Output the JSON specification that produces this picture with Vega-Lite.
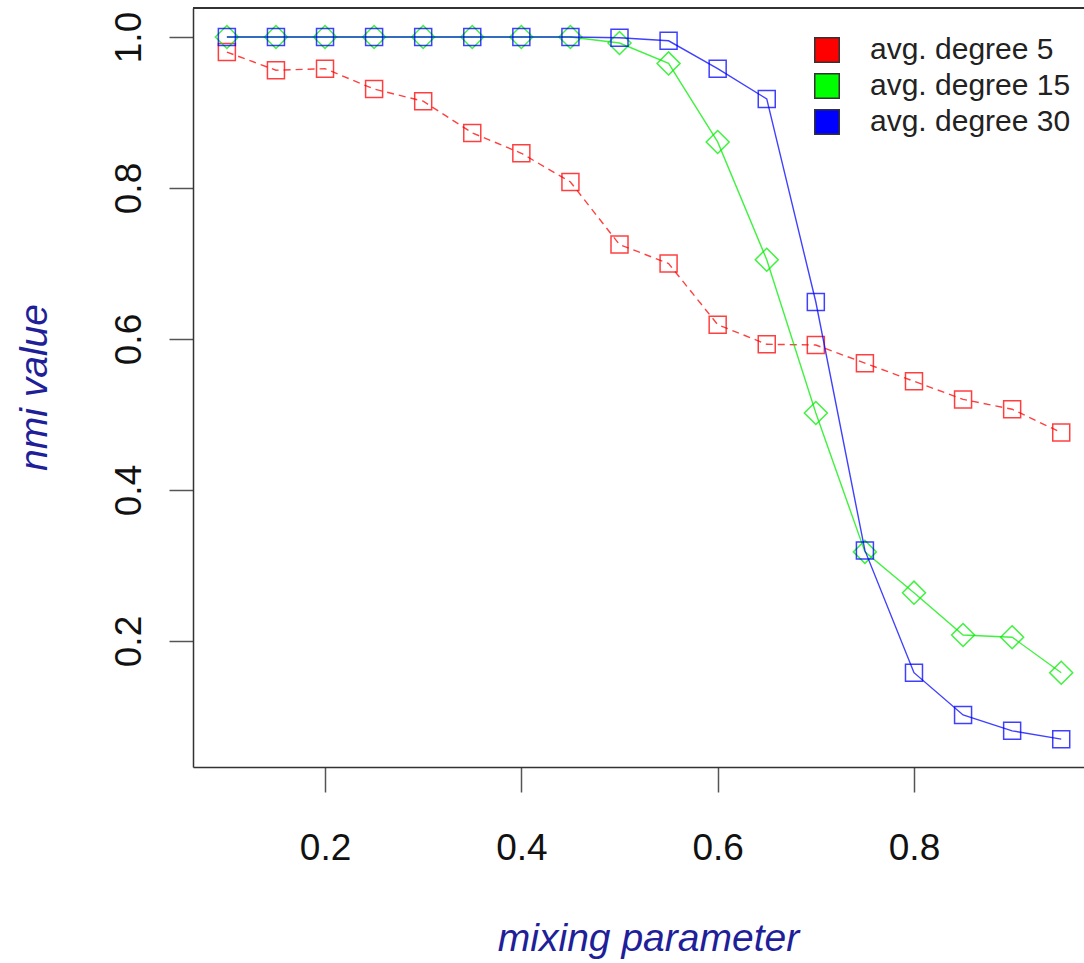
{
  "$schema": "https://vega.github.io/schema/vega-lite/v6.json",
  "autosize": {"type": "none"},
  "padding": {"left": 193, "top": 8, "right": 0, "bottom": 196},
  "width": 891,
  "height": 759,
  "background": "white",
  "config": {
    "view": {"stroke": null},
    "font": "Liberation Sans",
    "axis": {"grid": false, "domain": true, "domainColor": "#333333", "domainWidth": 1.5, "labelFont": "Liberation Sans", "titleFont": "Liberation Sans", "labelColor": "#111111", "tickColor": "#555555", "tickWidth": 1.5}
  },
  "data": {"values": [
    {"mu": 0.10, "nmi": 0.980, "series": "avg. degree 5"},
    {"mu": 0.15, "nmi": 0.956, "series": "avg. degree 5"},
    {"mu": 0.20, "nmi": 0.958, "series": "avg. degree 5"},
    {"mu": 0.25, "nmi": 0.931, "series": "avg. degree 5"},
    {"mu": 0.30, "nmi": 0.915, "series": "avg. degree 5"},
    {"mu": 0.35, "nmi": 0.873, "series": "avg. degree 5"},
    {"mu": 0.40, "nmi": 0.846, "series": "avg. degree 5"},
    {"mu": 0.45, "nmi": 0.808, "series": "avg. degree 5"},
    {"mu": 0.50, "nmi": 0.725, "series": "avg. degree 5"},
    {"mu": 0.55, "nmi": 0.700, "series": "avg. degree 5"},
    {"mu": 0.60, "nmi": 0.619, "series": "avg. degree 5"},
    {"mu": 0.65, "nmi": 0.593, "series": "avg. degree 5"},
    {"mu": 0.70, "nmi": 0.592, "series": "avg. degree 5"},
    {"mu": 0.75, "nmi": 0.568, "series": "avg. degree 5"},
    {"mu": 0.80, "nmi": 0.544, "series": "avg. degree 5"},
    {"mu": 0.85, "nmi": 0.520, "series": "avg. degree 5"},
    {"mu": 0.90, "nmi": 0.507, "series": "avg. degree 5"},
    {"mu": 0.95, "nmi": 0.476, "series": "avg. degree 5"},
    {"mu": 0.10, "nmi": 1.000, "series": "avg. degree 15"},
    {"mu": 0.15, "nmi": 1.000, "series": "avg. degree 15"},
    {"mu": 0.20, "nmi": 1.000, "series": "avg. degree 15"},
    {"mu": 0.25, "nmi": 1.000, "series": "avg. degree 15"},
    {"mu": 0.30, "nmi": 1.000, "series": "avg. degree 15"},
    {"mu": 0.35, "nmi": 1.000, "series": "avg. degree 15"},
    {"mu": 0.40, "nmi": 1.000, "series": "avg. degree 15"},
    {"mu": 0.45, "nmi": 1.000, "series": "avg. degree 15"},
    {"mu": 0.50, "nmi": 0.992, "series": "avg. degree 15"},
    {"mu": 0.55, "nmi": 0.965, "series": "avg. degree 15"},
    {"mu": 0.60, "nmi": 0.861, "series": "avg. degree 15"},
    {"mu": 0.65, "nmi": 0.705, "series": "avg. degree 15"},
    {"mu": 0.70, "nmi": 0.502, "series": "avg. degree 15"},
    {"mu": 0.75, "nmi": 0.318, "series": "avg. degree 15"},
    {"mu": 0.80, "nmi": 0.264, "series": "avg. degree 15"},
    {"mu": 0.85, "nmi": 0.208, "series": "avg. degree 15"},
    {"mu": 0.90, "nmi": 0.205, "series": "avg. degree 15"},
    {"mu": 0.95, "nmi": 0.158, "series": "avg. degree 15"},
    {"mu": 0.10, "nmi": 1.000, "series": "avg. degree 30"},
    {"mu": 0.15, "nmi": 1.000, "series": "avg. degree 30"},
    {"mu": 0.20, "nmi": 1.000, "series": "avg. degree 30"},
    {"mu": 0.25, "nmi": 1.000, "series": "avg. degree 30"},
    {"mu": 0.30, "nmi": 1.000, "series": "avg. degree 30"},
    {"mu": 0.35, "nmi": 1.000, "series": "avg. degree 30"},
    {"mu": 0.40, "nmi": 1.000, "series": "avg. degree 30"},
    {"mu": 0.45, "nmi": 1.000, "series": "avg. degree 30"},
    {"mu": 0.50, "nmi": 0.999, "series": "avg. degree 30"},
    {"mu": 0.55, "nmi": 0.995, "series": "avg. degree 30"},
    {"mu": 0.60, "nmi": 0.958, "series": "avg. degree 30"},
    {"mu": 0.65, "nmi": 0.918, "series": "avg. degree 30"},
    {"mu": 0.70, "nmi": 0.649, "series": "avg. degree 30"},
    {"mu": 0.75, "nmi": 0.320, "series": "avg. degree 30"},
    {"mu": 0.80, "nmi": 0.158, "series": "avg. degree 30"},
    {"mu": 0.85, "nmi": 0.102, "series": "avg. degree 30"},
    {"mu": 0.90, "nmi": 0.081, "series": "avg. degree 30"},
    {"mu": 0.95, "nmi": 0.070, "series": "avg. degree 30"}
  ]},
  "encoding": {
    "x": {
      "field": "mu", "type": "quantitative",
      "scale": {"domain": [0.0655, 0.9732], "nice": false, "zero": false},
      "axis": {
        "values": [0.2, 0.4, 0.6, 0.8], "format": ".1f",
        "labelFontSize": 37, "labelBaseline": "alphabetic", "labelPadding": 67,
        "tickSize": 25,
        "title": "mixing parameter", "titleFontSize": 39, "titleFontStyle": "italic", "titleFontWeight": "normal",
        "titleColor": "#1f1f9a", "titleBaseline": "alphabetic", "titleY": 183, "titleX": 455
      }
    },
    "y": {
      "field": "nmi", "type": "quantitative",
      "scale": {"domain": [0.0331, 1.0384], "nice": false, "zero": false},
      "axis": {
        "values": [0.2, 0.4, 0.6, 0.8, 1.0], "format": ".1f",
        "labelFontSize": 37, "labelAngle": -90, "labelAlign": "center", "labelBaseline": "alphabetic", "labelPadding": 29,
        "tickSize": 24,
        "title": "nmi value", "titleFontSize": 39, "titleFontStyle": "italic", "titleFontWeight": "normal",
        "titleColor": "#1f1f9a", "titleAngle": -90, "titleBaseline": "alphabetic", "titleAlign": "center", "titleX": -147, "titleY": 379
      }
    }
  },
  "layer": [
    {
      "mark": {"type": "rule", "color": "#333333", "strokeWidth": 1.5},
      "encoding": {
        "x": {"datum": 0.0655, "type": "quantitative"},
        "x2": {"datum": 0.9732},
        "y": {"datum": 1.0384, "type": "quantitative"}
      }
    },
    {
      "transform": [{"filter": "datum.series == 'avg. degree 5'"}],
      "mark": {"type": "line", "strokeWidth": 1.4, "opacity": 0.75, "strokeDash": [7, 5], "stroke": "#ff0000"},
      "encoding": {}
    },
    {
      "transform": [{"filter": "datum.series == 'avg. degree 5'"}],
      "mark": {"type": "point", "filled": false, "shape": "square", "size": 289, "strokeWidth": 1.5, "opacity": 0.75, "stroke": "#ff0000"},
      "encoding": {}
    },
    {
      "transform": [{"filter": "datum.series == 'avg. degree 15'"}],
      "mark": {"type": "line", "strokeWidth": 1.4, "opacity": 0.75, "stroke": "#00ee00"},
      "encoding": {}
    },
    {
      "transform": [{"filter": "datum.series == 'avg. degree 15'"}],
      "mark": {"type": "point", "filled": false, "shape": "diamond", "size": 529, "strokeWidth": 1.5, "opacity": 0.75, "stroke": "#00ee00"},
      "encoding": {}
    },
    {
      "transform": [{"filter": "datum.series == 'avg. degree 30'"}],
      "mark": {"type": "line", "strokeWidth": 1.4, "opacity": 0.75, "stroke": "#0000ff"},
      "encoding": {}
    },
    {
      "transform": [{"filter": "datum.series == 'avg. degree 30'"}],
      "mark": {"type": "point", "filled": false, "shape": "square", "size": 289, "strokeWidth": 1.5, "opacity": 0.75, "stroke": "#0000ff"},
      "encoding": {}
    },
    {
      "transform": [{"filter": "datum.nmi > 5"}],
      "mark": {"type": "point", "filled": true, "shape": "square", "opacity": 1, "stroke": "#333333", "strokeWidth": 1.5},
      "encoding": {
        "fill": {
          "field": "series", "type": "nominal",
          "scale": {"domain": ["avg. degree 5", "avg. degree 15", "avg. degree 30"], "range": ["#ff0000", "#00ff00", "#0000ff"]},
          "legend": {
            "title": null, "orient": "none", "legendX": 619, "legendY": 27, "padding": 0,
            "symbolType": "square", "symbolSize": 600, "symbolStrokeColor": "#333333", "symbolStrokeWidth": 1.5,
            "labelFontSize": 30, "labelFont": "Liberation Sans", "labelColor": "#222222",
            "labelOffset": 28, "rowPadding": 4, "labelLimit": 400
          }
        }
      }
    }
  ]
}
